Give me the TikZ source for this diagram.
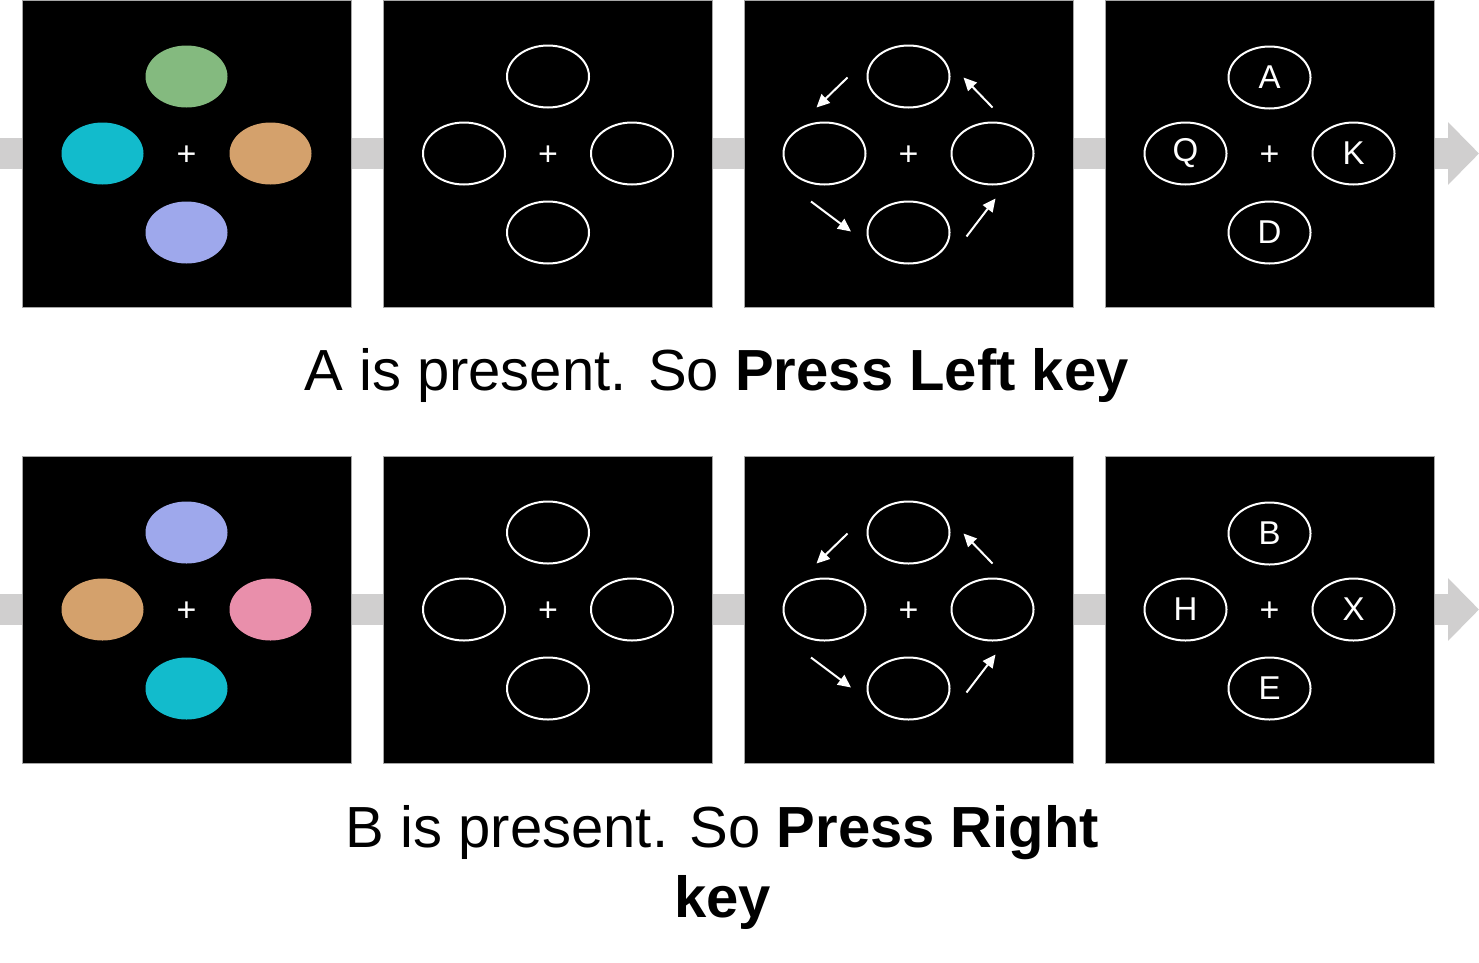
\documentclass[tikz,border=0pt]{standalone}
\usepackage{fontspec}
\setmainfont{Liberation Sans}
\usetikzlibrary{shapes.geometric,arrows.meta}
\definecolor{bandgray}{RGB}{208,207,207}
\definecolor{leafgreen}{RGB}{132,186,127}
\definecolor{tealblue}{RGB}{18,187,204}
\definecolor{sandtan}{RGB}{212,161,108}
\definecolor{lilac}{RGB}{158,168,236}
\definecolor{rosepink}{RGB}{233,143,171}
\tikzset{
  screen/.style={rectangle, fill=black, draw=gray!70, line width=1pt,
    minimum width=329pt, minimum height=307pt, inner sep=0pt},
  blob/.style={ellipse, minimum width=82pt, minimum height=62pt, inner sep=0pt},
  greenblob/.style={blob, fill=leafgreen},
  tealblob/.style={blob, fill=tealblue},
  tanblob/.style={blob, fill=sandtan},
  lilacblob/.style={blob, fill=lilac},
  pinkblob/.style={blob, fill=rosepink},
  ring/.style={blob, draw=white, line width=2pt, text=white,
    font={\fontsize{33}{33}\selectfont}},
  cross/.style={text=white, inner sep=0pt, font={\fontsize{34}{34}\selectfont}},
  band/.style={bandgray, line width=31pt,
    -{Triangle[length=31pt,width=61pt]}},
  turn/.style={white, line width=2pt, -{Triangle[length=13pt,width=12pt]}},
  caption/.style={font={\fontsize{58}{70}\selectfont}, align=center, inner sep=0pt},
}
\newcommand{\screen}[3][]{
    \begin{scope}[#1]
    \node[screen] (#2) at (0,0) {};
    \node[cross] (#2-c) at (0,2.5) {+};
    \foreach \n/\px/\py/\s/\t in {#3}
        {
            \node[\s] (#2-\n) at (\px,\py) {\t};
        }
    \end{scope}
}
\newcommand{\turns}[2][]{
    \begin{scope}[#1]
    \foreach \xa/\ya/\xb/\yb [count=\i] in {#2}
        {
            \coordinate (#1-\i a) at (\xa,\ya);
            \coordinate (#1-\i b) at (\xb,\yb);
            \draw[turn] (#1-\i a) -- (#1-\i b);
        }
    \end{scope}
}

\begin{document}
\begin{tikzpicture}[x=1pt, y=-1pt]
    \useasboundingbox (0,0) rectangle (1479,962);

    % grey time line behind each row
    \coordinate (line1a) at (0,153.5);
    \coordinate (line1b) at (1479,153.5);
    \coordinate (line2a) at (0,609.5);
    \coordinate (line2b) at (1479,609.5);
    \draw[band] (line1a) -- (line1b);
    \draw[band] (line2a) -- (line2b);

    % first trial
    \screen[shift={(186.5,153.5)}]{a1}{up/0/-77/greenblob/, left/-84/0/tealblob/,
        right/84/0/tanblob/, down/0/79/lilacblob/}
    \screen[shift={(548,153.5)}]{a2}{up/0/-77/ring/, left/-84/0/ring/,
        right/84/0/ring/, down/0/79/ring/}
    \screen[shift={(908.5,153.5)}]{a3}{up/0/-77/ring/, left/-84/0/ring/,
        right/84/0/ring/, down/0/79/ring/}
    \turns[shift={(908.5,153.5)}]{-61/-76/-92/-46, 84/-46/55/-76,
        -97.5/48/-57.5/78, 58/83/87/45}
    \screen[shift={(1269.5,153.5)}]{a4}{up/0/-76/ring/A, left/-84/0/ring/Q,
        right/84/0/ring/K, down/0/79/ring/D}
    \node[caption, anchor=base] (cap1) at (716.5,390)
        {A is present. So \textbf{Press Left key}};

    % second trial
    \screen[shift={(186.5,609.5)}]{b1}{up/0/-77/lilacblob/, left/-84/0/tanblob/,
        right/84/0/pinkblob/, down/0/79/tealblob/}
    \screen[shift={(548,609.5)}]{b2}{up/0/-77/ring/, left/-84/0/ring/,
        right/84/0/ring/, down/0/79/ring/}
    \screen[shift={(908.5,609.5)}]{b3}{up/0/-77/ring/, left/-84/0/ring/,
        right/84/0/ring/, down/0/79/ring/}
    \turns[shift={(908.5,609.5)}]{-61/-76/-92/-46, 84/-46/55/-76,
        -97.5/48/-57.5/78, 58/83/87/45}
    \screen[shift={(1269.5,609.5)}]{b4}{up/0/-76/ring/B, left/-84/0/ring/H,
        right/84/0/ring/X, down/0/79/ring/E}
    \node[caption, anchor=base] (cap2) at (722.5,917)
        {B is present. So \textbf{Press Right}\\\textbf{key}};
\end{tikzpicture}
\end{document}
